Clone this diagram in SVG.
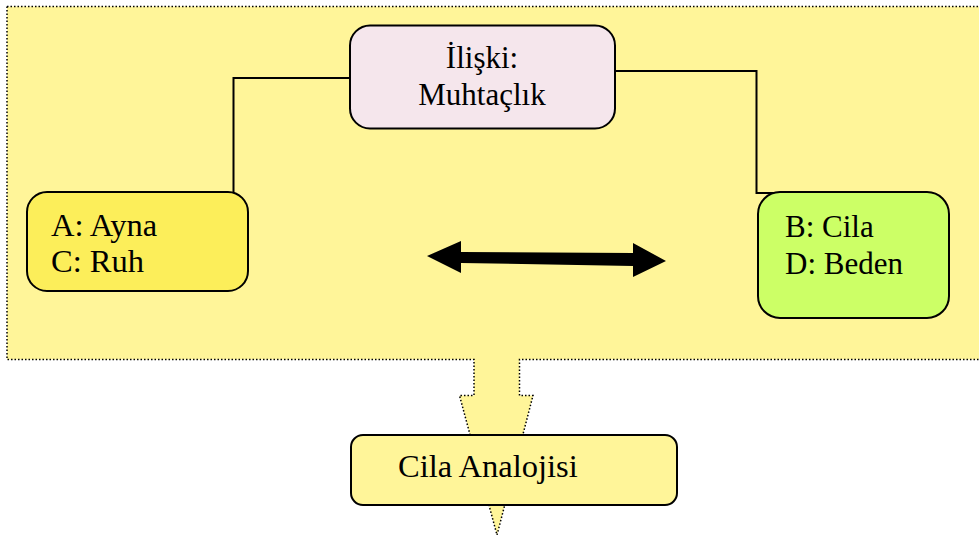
<svg xmlns="http://www.w3.org/2000/svg" width="979" height="537" viewBox="0 0 979 537">
<style>
text{font-family:'Liberation Serif',serif;font-size:31px;fill:#000}
.big{font-size:32.5px}
.box{stroke:#000;stroke-width:2}
.ln{fill:none;stroke:#000;stroke-width:2}
</style>
<rect width="979" height="537" fill="#fff"/>
<g id="callout">
<path d="M7,6.5 H990 V359.5 H519.5 V395.5 H533 L497,535 L459.5,395.5 H474 V359.5 H7 Z" fill="#FFF599" stroke="#000" stroke-width="1.5" stroke-dasharray="1.5,2"/>
</g>
<g id="connectors">
<polyline class="ln" points="350,78 233.5,78 233.5,193"/>
<polyline class="ln" points="610,71 756.5,71 756.5,193 800,193"/>
<polygon points="427,256 461,241 461,252 633,253 633,243 666,261 633,277 633,266 461,263 461,273" fill="#000"/>
</g>
<g id="node-top">
<rect class="box" x="350" y="25.5" width="265" height="103" rx="20" fill="#F5E6EC"/>
<text x="482" y="68" text-anchor="middle">İlişki:</text>
<text x="482" y="105" text-anchor="middle">Muhtaçlık</text>
</g>
<g id="node-a">
<rect class="box" x="27" y="192" width="221" height="99" rx="20" fill="#FCEE5A"/>
<text class="big" x="51" y="236">A: Ayna</text>
<text class="big" x="51" y="272">C: Ruh</text>
</g>
<g id="node-b">
<rect class="box" x="758" y="192" width="191" height="126" rx="22" fill="#CCFF66"/>
<text x="785" y="237">B: Cila</text>
<text x="785" y="274">D: Beden</text>
</g>
<g id="node-cila">
<rect class="box" x="351" y="435" width="326" height="70" rx="12" fill="#FFF599"/>
<text class="big" x="398" y="477">Cila Analojisi</text>
</g>
</svg>
